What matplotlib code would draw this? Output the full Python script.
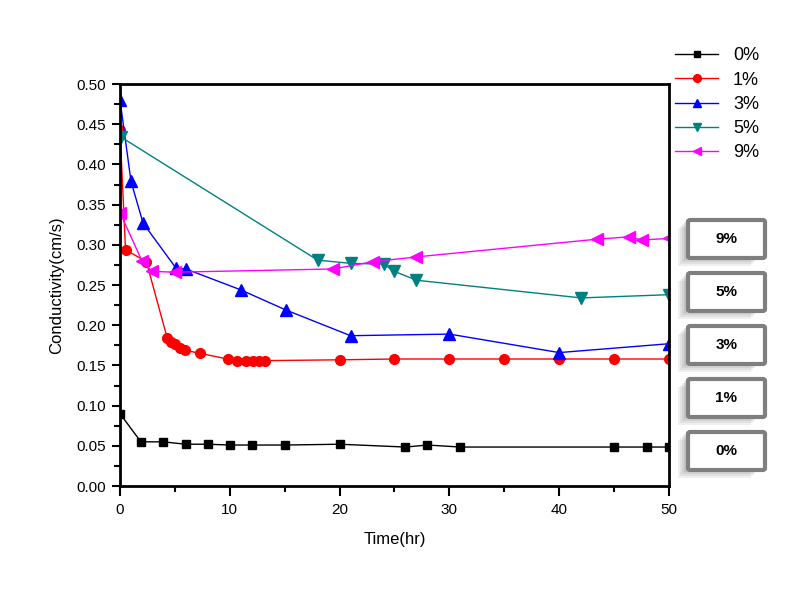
import matplotlib.pyplot as plt
from matplotlib.patches import FancyBboxPatch, Rectangle
from matplotlib.ticker import MultipleLocator

plt.rcParams['font.family'] = ['Liberation Sans', 'DejaVu Sans']

# 0%
t0 = [0, 1.9, 3.9, 6.0, 8.0, 10, 12, 15, 20, 26, 28, 31, 45, 48, 50]
c0 = [0.090, 0.055, 0.055, 0.052, 0.052, 0.051, 0.051, 0.051, 0.052, 0.0485, 0.051, 0.0485, 0.0485, 0.0485, 0.0485]
# 1%
t1 = [0, 0.5, 2.4, 4.3, 4.6, 5.0, 5.5, 5.9, 7.3, 9.8, 10.7, 11.5, 12.1, 12.7, 13.2, 20, 25, 30, 35, 40, 45, 50]
c1 = [0.443, 0.294, 0.279, 0.184, 0.179, 0.177, 0.172, 0.169, 0.165, 0.158, 0.155, 0.155, 0.155, 0.156, 0.156,
      0.157, 0.158, 0.158, 0.158, 0.158, 0.158, 0.158]
# 3%
t3 = [0, 1.0, 2.1, 5.1, 6.0, 11, 15.1, 21, 30, 40, 50]
c3 = [0.480, 0.379, 0.327, 0.271, 0.270, 0.244, 0.219, 0.187, 0.189, 0.166, 0.177]
# 5%
t5 = [0.1, 18, 21, 24, 25, 27, 42, 50]
c5 = [0.434, 0.281, 0.277, 0.276, 0.267, 0.256, 0.234, 0.238]
# 9%
t9 = [0, 2.0, 2.9, 5.0, 19.4, 23, 27, 43.4, 46.4, 47.5, 50]
c9 = [0.340, 0.280, 0.267, 0.266, 0.270, 0.279, 0.285, 0.307, 0.310, 0.306, 0.308]

labels = ['0%', '1%', '3%', '5%', '9%']
box_labels = ['9%', '5%', '3%', '1%', '0%']

fig = plt.figure(figsize=(7.98, 5.92), dpi=100)
ax = fig.add_axes([0.1504, 0.179, 0.6879, 0.679])

ax.plot(t0, c0, color='black', marker='s', ms=6, lw=1, label=labels[0])
ax.plot(t1, c1, color='red', marker='o', ms=7, lw=1, label=labels[1])
ax.plot(t3, c3, color='blue', marker='^', ms=8, lw=1, label=labels[2])
ax.plot(t5, c5, color='#008080', marker='v', ms=8, lw=1, label=labels[3])
ax.plot(t9, c9, color='magenta', marker='<', ms=8, lw=1, label=labels[4])

ax.set_xlim(0, 50)
ax.set_ylim(0, 0.5)
ax.xaxis.set_major_locator(MultipleLocator(10))
ax.xaxis.set_minor_locator(MultipleLocator(5))
ax.yaxis.set_major_locator(MultipleLocator(0.05))
ax.yaxis.set_minor_locator(MultipleLocator(0.025))
ax.yaxis.set_major_formatter(plt.FormatStrFormatter('%.2f'))
ax.tick_params(which='major', direction='out', length=6, width=1.5, labelsize=11, pad=4)
ax.tick_params(which='minor', direction='out', length=4, width=1.5)
ax.tick_params(axis='x', which='major', length=7, pad=5)
for s in ax.spines.values():
    s.set_linewidth(2)
ax.set_xlabel('Time(hr)', fontsize=12, labelpad=11)
ax.set_ylabel('Conductivity(cm/s)', fontsize=12, labelpad=9)

ax.legend(loc='upper left', bbox_to_anchor=(0.837, 0.932), bbox_transform=fig.transFigure,
          frameon=False, fontsize=13, handlelength=2.4, labelspacing=0.4, borderaxespad=0,
          markerscale=0.8)

# boxes on the right with shadow
W, H = 798, 592
for i, lab in enumerate(box_labels):
    x0, y0, bw, bh = 688, 220 + i * 53, 77, 38
    for k, a in enumerate([0.12, 0.12, 0.15, 0.2]):
        off = 10 - k * 2
        fig.patches.append(Rectangle(((x0 - off) / W, 1 - (y0 + bh + off - 2) / H),
                                     (bw - 4) / W, (bh) / H, transform=fig.transFigure,
                                     facecolor='gray', edgecolor='none', alpha=a))
    fig.patches.append(FancyBboxPatch((x0 / W, 1 - (y0 + bh) / H), bw / W, bh / H,
                                      boxstyle='round,pad=0,rounding_size=0.003',
                                      transform=fig.transFigure, facecolor='white',
                                      edgecolor='#7f7f7f', linewidth=3))
    fig.text((x0 + bw / 2) / W, 1 - (y0 + bh / 2) / H, lab, ha='center', va='center',
             fontsize=11, fontweight='bold')

plt.savefig('out.png')
